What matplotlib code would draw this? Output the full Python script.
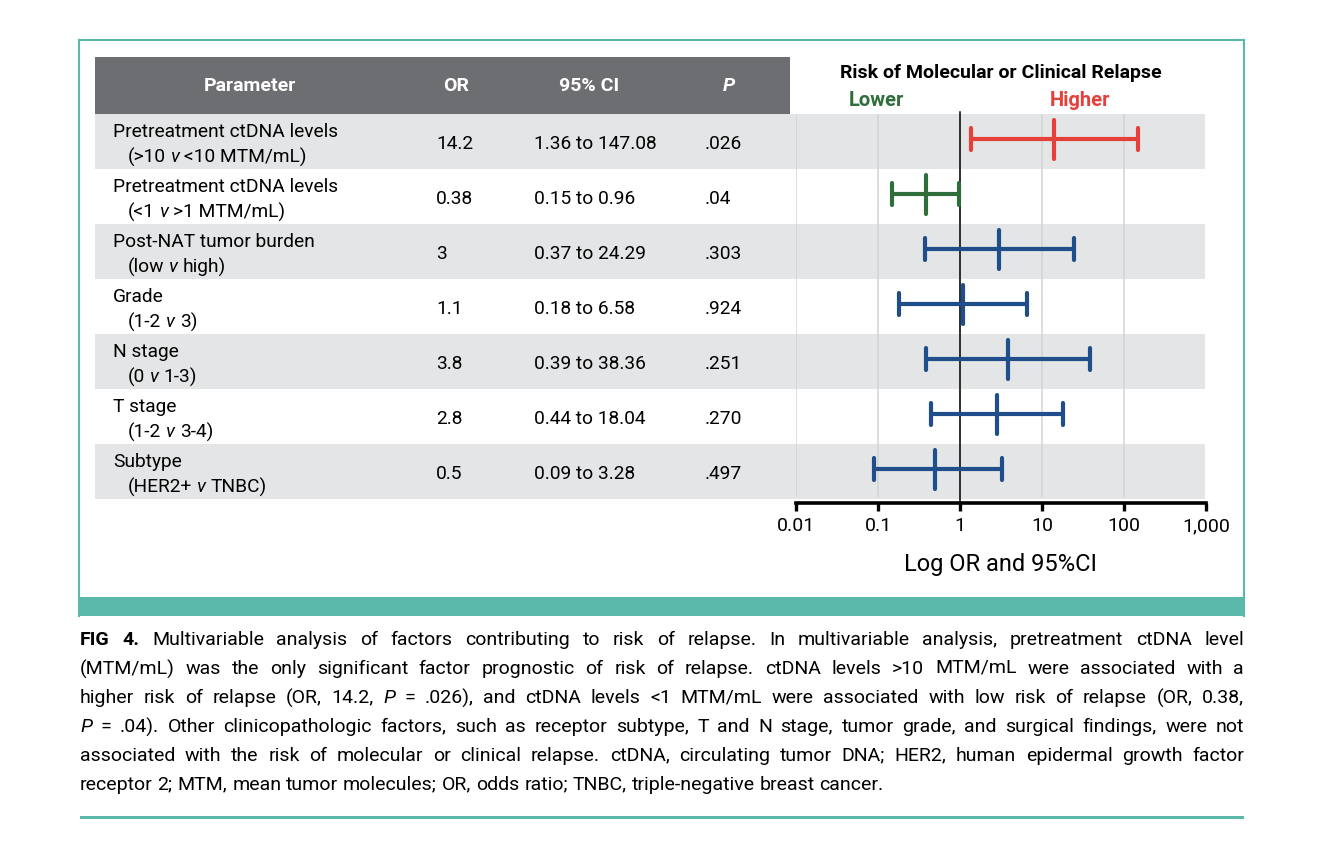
import math
import matplotlib
matplotlib.use("Agg")
import matplotlib.pyplot as plt
from matplotlib.patches import Rectangle

W, H = 1328, 864
FONT = "Roboto"
plt.rcParams['font.family'] = [FONT, 'DejaVu Sans']

# ---------------- data ----------------
param_names = ["Pretreatment ctDNA levels", "Pretreatment ctDNA levels",
               "Post-NAT tumor burden", "Grade", "N stage", "T stage", "Subtype"]
comp_left = ["(>10", "(<1", "(low", "(1-2", "(0", "(1-2", "(HER2+"]
comp_right = ["<10 MTM/mL)", ">1 MTM/mL)", "high)", "3)", "1-3)", "3-4)", "TNBC)"]
odds_ratio = [14.2, 0.38, 3.0, 1.1, 3.8, 2.8, 0.5]
or_labels = ["14.2", "0.38", "3", "1.1", "3.8", "2.8", "0.5"]
ci_low = [1.36, 0.15, 0.37, 0.18, 0.39, 0.44, 0.09]
ci_high = [147.08, 0.96, 24.29, 6.58, 38.36, 18.04, 3.28]
p_labels = [".026", ".04", ".303", ".924", ".251", ".270", ".497"]
p_values = [0.026, 0.04, 0.303, 0.924, 0.251, 0.270, 0.497]
header_labels = ["Parameter", "OR", "95% CI", "P"]
x_ticks = [0.01, 0.1, 1, 10, 100, 1000]
x_tick_labels = ["0.01", "0.1", "1", "10", "100", "1,000"]
plot_title = "Risk of Molecular or Clinical Relapse"
lower_label, higher_label = "Lower", "Higher"
x_label = "Log OR and 95%CI"

caption_lines = [
    [("FIG 4.", "bold"), ("Multivariable analysis of factors contributing to risk of relapse. In multivariable analysis, pretreatment ctDNA level", "normal")],
    [("(MTM/mL) was the only significant factor prognostic of risk of relapse. ctDNA levels >10 MTM/mL were associated with a", "normal")],
    [("higher risk of relapse (OR, 14.2,", "normal"), ("P", "italic"), ("= .026), and ctDNA levels <1 MTM/mL were associated with low risk of relapse (OR, 0.38,", "normal")],
    [("P", "italic"), ("= .04). Other clinicopathologic factors, such as receptor subtype, T and N stage, tumor grade, and surgical findings, were not", "normal")],
    [("associated with the risk of molecular or clinical relapse. ctDNA, circulating tumor DNA; HER2, human epidermal growth factor", "normal")],
    [("receptor 2; MTM, mean tumor molecules; OR, odds ratio; TNBC, triple-negative breast cancer.", "normal")],
]

# ---------------- style ----------------
TEAL = "#5ab9ab"
HEAD = "#6d6e71"
SHADE = "#e4e5e6"
GRID = "#d2d3d5"
RED, GREEN, BLUE = "#e5403a", "#2f6e3b", "#1f4e8b"

fig = plt.figure(figsize=(W / 100, H / 100), dpi=100)
fig.patch.set_facecolor("white")
bg = fig.add_axes([0, 0, 1, 1], zorder=0)
bg.set_xlim(0, W)
bg.set_ylim(H, 0)
bg.axis("off")
renderer = fig.canvas.get_renderer()


def style_kw(style):
    if style == "bold":
        return dict(fontweight="bold")
    if style == "italic":
        return dict(fontstyle="italic")
    return {}


def measure(txt, fs, style="normal"):
    t = bg.text(0, 0, txt, fontsize=fs, **style_kw(style))
    w = t.get_window_extent(renderer).width
    t.remove()
    return w


def baseline_error(txt, fs, style, y):
    """Pixel offset that Agg's rounding gives to the baseline of a word."""
    try:
        from matplotlib.backends.backend_agg import get_hinting_flag
        t = bg.text(0, 0, txt, fontsize=fs, **style_kw(style))
        prop = t.get_fontproperties()
        t.remove()
        font = renderer._prepare_font(prop)
        font.set_text(txt, 0, flags=get_hinting_flag())
        _, hgt = font.get_width_height()
        d = font.get_descent()
        ymin = -d
        ymax = hgt + ymin
        yb = round(y + d / 64.0)
        screen = yb - (hgt // 64) + math.floor(ymax / 64.0)
        e = screen - y
        return e if abs(e) <= 2 else 0
    except Exception:
        return 0


def draw_words(x0, y, words, fs, color="black", x1=None, va="baseline"):
    widths = [measure(w, fs, s) for w, s in words]
    space = measure("a a", fs) - measure("aa", fs)
    if x1 is not None and len(words) > 1:
        space = (x1 - x0 - sum(widths)) / (len(words) - 1)
    x = x0
    for (w, s), wd in zip(words, widths):
        yy = y - baseline_error(w, fs, s, y) if va == "baseline" else y
        bg.text(x, yy, w, fontsize=fs, color=color, ha="left", va=va, **style_kw(s))
        x += wd + space


# frame
bg.plot([79, 1244], [40, 40], color=TEAL, lw=1.5)
bg.plot([79, 79], [40, 616], color=TEAL, lw=1.5)
bg.plot([1244, 1244], [40, 616], color=TEAL, lw=1.5)
bg.add_patch(Rectangle((79, 597), 1165.5, 19, color=TEAL, lw=0))
bg.add_patch(Rectangle((80, 816), 1164, 3, color=TEAL, lw=0))

# table
top, row_h, n = 114, 55, len(param_names)
bg.add_patch(Rectangle((95, 57), 695, 57, color=HEAD, lw=0))
for i in range(n):
    if i % 2 == 0:
        bg.add_patch(Rectangle((95, top + i * row_h), 1110, row_h, color=SHADE, lw=0))

head_x = [250, 456, 589, 729]
for lab, hx in zip(header_labels, head_x):
    bg.text(hx, 86, lab, color="white", fontsize=14, fontweight="bold",
            fontstyle="italic" if lab == "P" else "normal", ha="center", va="center")

TFS = 13.8
for i in range(n):
    rt = top + i * row_h
    bg.text(113, rt + 18, param_names[i], fontsize=TFS, ha="left", va="center")
    draw_words(128, rt + 48, [(comp_left[i], "normal"), ("v", "italic"), (comp_right[i], "normal")], TFS)
    bg.text(436, rt + 30, or_labels[i], fontsize=TFS, ha="left", va="center")
    bg.text(534, rt + 30, f"{ci_low[i]:g} to {ci_high[i]:g}", fontsize=TFS, ha="left", va="center")
    bg.text(705, rt + 30, p_labels[i], fontsize=TFS, ha="left", va="center")

# titles above the forest plot
bg.text(1001, 73, plot_title, fontsize=14, fontweight="bold", ha="center", va="center")
bg.text(876, 100, lower_label, fontsize=14.5, fontweight="bold", color=GREEN, ha="center", va="center")
bg.text(1080, 100, higher_label, fontsize=14.5, fontweight="bold", color=RED, ha="center", va="center")

# ---------------- forest plot ----------------
ax = fig.add_axes([796 / W, 1 - 499 / H, 410 / W, 385 / H], zorder=1)
ax.patch.set_alpha(0)
ax.set_xscale("log")
ax.set_xlim(x_ticks[0], x_ticks[-1])
ax.set_ylim(n - 0.5 + 0.045, -0.5 + 0.045)
for s in ["top", "left", "right"]:
    ax.spines[s].set_visible(False)
ax.spines["bottom"].set_position(("outward", 3))
ax.spines["bottom"].set_linewidth(2.6)
ax.set_xticks(x_ticks)
ax.set_xticklabels(x_tick_labels)
ax.minorticks_off()
ax.tick_params(axis="x", length=6, width=2.4, direction="out", pad=4, labelsize=14)
ax.set_yticks([])
ax.set_xlabel(x_label, fontsize=17, labelpad=13)

ax.vlines(x_ticks[:-1], -0.5, n - 0.5, color=GRID, lw=1.1, zorder=1)
ax.plot([1, 1], [-0.5, n - 0.5 + 0.1], color="black", lw=1.1, zorder=2, clip_on=False)

for i in range(n):
    if p_values[i] < 0.05:
        c = RED if odds_ratio[i] > 1 else GREEN
    else:
        c = BLUE
    lc = ax.hlines(i, ci_low[i], ci_high[i], color=c, lw=3.0, zorder=3)
    lc.set_capstyle("round")
    caps = ax.vlines([ci_low[i], ci_high[i]], i - 0.2, i + 0.2, color=c, lw=3.0, zorder=3)
    caps.set_capstyle("round")
    mid = ax.vlines(odds_ratio[i], i - 0.355, i + 0.355, color=c, lw=3.0, zorder=3)
    mid.set_capstyle("round")

# ---------------- caption ----------------
CFS = 14
for k, segs in enumerate(caption_lines):
    words = []
    for txt, st in segs:
        for w in txt.split(" "):
            if w:
                words.append((w, st))
    last = k == len(caption_lines) - 1
    draw_words(80, 645 + 29 * k, words, CFS, x1=None if last else 1244)

fig.savefig("out.png", dpi=100, facecolor="white")
